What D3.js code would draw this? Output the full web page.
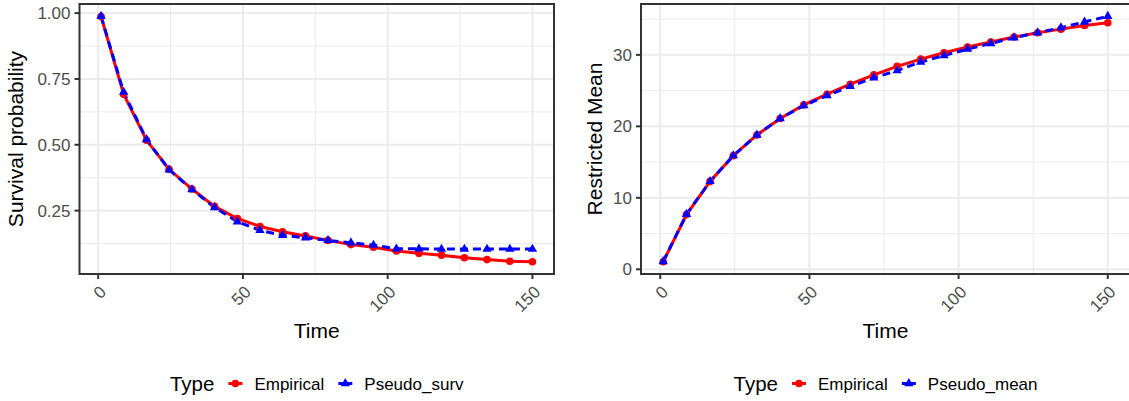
<!DOCTYPE html>
<html>
<head>
<meta charset="utf-8">
<script src="https://cdn.jsdelivr.net/npm/d3@7"></script>
<style>
  body { margin: 0; background: #fff; }
  text { font-family: "Liberation Sans", Arial, sans-serif; }
</style>
</head>
<body>
<div id="chart"></div>
<script>
// time points (same for both panels)
const time = [1, 8.8, 16.7, 24.5, 32.4, 40.2, 48.1, 55.9, 63.7, 71.6,
              79.4, 87.3, 95.1, 103.0, 110.8, 118.6, 126.5, 134.3, 142.2, 150];

// left panel: survival probability
const survEmpirical = [0.987, 0.692, 0.517, 0.407, 0.332, 0.266, 0.220, 0.190, 0.170, 0.154,
                       0.137, 0.121, 0.111, 0.097, 0.088, 0.081, 0.071, 0.064, 0.058, 0.056];
const survPseudo    = [0.988, 0.700, 0.520, 0.405, 0.330, 0.262, 0.208, 0.175, 0.156, 0.147,
                       0.137, 0.128, 0.119, 0.105, 0.105, 0.104, 0.104, 0.104, 0.104, 0.104];

// right panel: restricted mean
const meanEmpirical = [1.06, 7.66, 12.3, 15.9, 18.8, 21.1, 23.0, 24.5, 25.9, 27.2,
                       28.4, 29.4, 30.3, 31.1, 31.8, 32.5, 33.1, 33.6, 34.1, 34.5];
const meanPseudo    = [1.1, 7.7, 12.3, 15.9, 18.8, 21.1, 22.9, 24.3, 25.6, 26.8,
                       27.8, 29.0, 29.9, 30.8, 31.6, 32.4, 33.1, 33.8, 34.6, 35.4];

const xTicks = [0, 50, 100, 150];
const xMinor = [25, 75, 125];
const survTicks = [0.25, 0.50, 0.75, 1.00];
const survMinor = [0.125, 0.375, 0.625, 0.875];
const meanTicks = [0, 10, 20, 30];
const meanMinor = [5, 15, 25, 35];

const W = 1129, H = 401;
const panelTop = 4, panelBottom = 274;

const svg = d3.select("#chart")
  .append("svg")
    .attr("width", W)
    .attr("height", H);

// ggplot-like 5% expansion
function expand(ext) {
  const d = (ext[1] - ext[0]) * 0.05;
  return [ext[0] - d, ext[1] + d];
}

function panel(cfg) {
  const g = svg.append("g");

  const x = d3.scaleLinear()
    .domain(expand(d3.extent(time)))
    .range([cfg.left, cfg.right]);
  const y = d3.scaleLinear()
    .domain(expand(d3.extent(cfg.emp.concat(cfg.pseudo))))
    .range([panelBottom, panelTop]);

  // grid
  g.selectAll(".xminor").data(xMinor).join("line")
    .attr("x1", d => x(d)).attr("x2", d => x(d))
    .attr("y1", panelTop).attr("y2", panelBottom)
    .attr("stroke", "#ebebeb").attr("stroke-width", 1);
  g.selectAll(".yminor").data(cfg.yMinor.filter(d => d > y.domain()[0] && d < y.domain()[1])).join("line")
    .attr("x1", cfg.left).attr("x2", cfg.right)
    .attr("y1", d => y(d)).attr("y2", d => y(d))
    .attr("stroke", "#ebebeb").attr("stroke-width", 1);
  g.selectAll(".xmajor").data(xTicks).join("line")
    .attr("x1", d => x(d)).attr("x2", d => x(d))
    .attr("y1", panelTop).attr("y2", panelBottom)
    .attr("stroke", "#ebebeb").attr("stroke-width", 2);
  g.selectAll(".ymajor").data(cfg.yTicks).join("line")
    .attr("x1", cfg.left).attr("x2", cfg.right)
    .attr("y1", d => y(d)).attr("y2", d => y(d))
    .attr("stroke", "#ebebeb").attr("stroke-width", 2);

  // lines
  const line = d3.line()
    .x((d, i) => x(time[i]))
    .y(d => y(d));

  g.append("path").datum(cfg.emp)
    .attr("d", line)
    .attr("fill", "none")
    .attr("stroke", "#ff0000")
    .attr("stroke-width", 3);
  g.append("path").datum(cfg.pseudo)
    .attr("d", line)
    .attr("fill", "none")
    .attr("stroke", "#0000ff")
    .attr("stroke-width", 3)
    .attr("stroke-dasharray", "8,5");

  // points
  g.selectAll(".pe").data(cfg.emp).join("circle")
    .attr("cx", (d, i) => x(time[i]))
    .attr("cy", d => y(d))
    .attr("r", 3.8)
    .attr("fill", "#ff0000");
  const tri = d3.symbol().type(d3.symbolTriangle).size(38);
  g.selectAll(".pp").data(cfg.pseudo).join("path")
    .attr("d", tri)
    .attr("transform", (d, i) => `translate(${x(time[i])},${y(d)})`)
    .attr("fill", "#0000ff");

  // border
  g.append("rect")
    .attr("x", cfg.left).attr("y", panelTop)
    .attr("width", cfg.right - cfg.left).attr("height", panelBottom - panelTop)
    .attr("fill", "none")
    .attr("stroke", "#333333")
    .attr("stroke-width", 2);

  // x ticks + labels
  g.selectAll(".xt").data(xTicks).join("line")
    .attr("x1", d => x(d)).attr("x2", d => x(d))
    .attr("y1", panelBottom).attr("y2", panelBottom + 5)
    .attr("stroke", "#333333").attr("stroke-width", 2);
  g.selectAll(".xl").data(xTicks).join("text")
    .attr("transform", d => `translate(${x(d) + 9},293) rotate(-45)`)
    .attr("text-anchor", "end")
    .attr("font-size", 17)
    .attr("fill", "#4d4d4d")
    .text(d => d);

  // y ticks + labels
  g.selectAll(".yt").data(cfg.yTicks).join("line")
    .attr("x1", cfg.left - 5).attr("x2", cfg.left)
    .attr("y1", d => y(d)).attr("y2", d => y(d))
    .attr("stroke", "#333333").attr("stroke-width", 2);
  g.selectAll(".yl").data(cfg.yTicks).join("text")
    .attr("x", cfg.left - 9)
    .attr("y", d => y(d))
    .attr("dy", "0.35em")
    .attr("text-anchor", "end")
    .attr("font-size", 17)
    .attr("fill", "#4d4d4d")
    .text(cfg.yFormat);

  // axis titles
  const cx = (cfg.left + cfg.right) / 2;
  g.append("text")
    .attr("x", cx).attr("y", 338)
    .attr("text-anchor", "middle")
    .attr("font-size", 21)
    .text("Time");
  g.append("text")
    .attr("transform", `translate(${cfg.titleX},${(panelTop + panelBottom) / 2}) rotate(-90)`)
    .attr("text-anchor", "middle")
    .attr("font-size", 21)
    .text(cfg.yTitle);

  // legend
  const lg = g.append("g");
  const title = lg.append("text")
    .attr("y", 391).attr("font-size", 20.5).text("Type");
  let pos = title.node().getComputedTextLength();
  const items = [{label: "Empirical", color: "#ff0000", shape: "circle"},
                 {label: cfg.pseudoLabel, color: "#0000ff", shape: "triangle"}];
  items.forEach(it => {
    const kc = pos + 21;
    lg.append("line")
      .attr("x1", kc - 7).attr("x2", kc + 7)
      .attr("y1", 383.5).attr("y2", 383.5)
      .attr("stroke", it.color).attr("stroke-width", 3);
    if (it.shape === "circle") {
      lg.append("circle").attr("cx", kc).attr("cy", 383.5).attr("r", 3.8).attr("fill", it.color);
    } else {
      lg.append("path").attr("d", tri)
        .attr("transform", `translate(${kc},383.5)`).attr("fill", it.color);
    }
    const t = lg.append("text")
      .attr("x", kc + 19).attr("y", 389.5)
      .attr("font-size", 17).text(it.label);
    pos = kc + 19 + t.node().getComputedTextLength();
  });
  lg.attr("transform", `translate(${cx - pos / 2},0)`);
}

panel({
  left: 79.5, right: 554,
  emp: survEmpirical, pseudo: survPseudo,
  yTicks: survTicks, yMinor: survMinor,
  yFormat: d => d3.format(".2f")(d),
  yTitle: "Survival probability", titleX: 23,
  pseudoLabel: "Pseudo_surv"
});

panel({
  left: 641, right: 1130,
  emp: meanEmpirical, pseudo: meanPseudo,
  yTicks: meanTicks, yMinor: meanMinor,
  yFormat: d => d,
  yTitle: "Restricted Mean", titleX: 602,
  pseudoLabel: "Pseudo_mean"
});
</script>
</body>
</html>
